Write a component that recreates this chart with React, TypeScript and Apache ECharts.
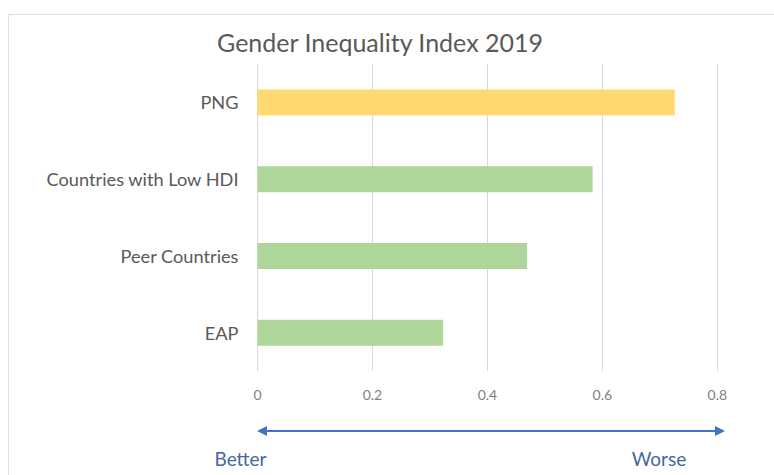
import React, { useEffect, useRef } from "react";
import * as echarts from "echarts";

const categories = ["EAP", "Peer Countries", "Countries with Low HDI", "PNG"];
const values = [0.323, 0.469, 0.583, 0.726];
const barColors = ["#AED59A", "#AED59A", "#AED59A", "#FFD970"];
const xTicks = { min: 0, max: 0.8, interval: 0.2 };
const titleText = "Gender Inequality Index 2019";
const arrowLabels = ["Better", "Worse"];

export default function App() {
  const ref = useRef<HTMLDivElement>(null);
  useEffect(() => {
    if (!ref.current) return;
    const chart = echarts.init(ref.current, undefined, { renderer: "svg" });
    const font = "Lato, 'Open Sans', sans-serif";
    chart.setOption({
      animation: false,
      backgroundColor: "#ffffff",
      title: {
        text: titleText,
        left: 375,
        textAlign: "center",
        top: 24,
        textStyle: { fontFamily: font, fontSize: 25, fontWeight: "normal", color: "#595959" },
      },
      grid: { left: 257.5, right: 56.7, top: 64, bottom: 104 },
      xAxis: {
        type: "value",
        min: xTicks.min,
        max: xTicks.max,
        interval: xTicks.interval,
        axisLine: { show: false },
        axisTick: { show: false },
        axisLabel: { color: "#7f7f7f", fontFamily: font, fontSize: 14, margin: 16 },
        splitLine: { lineStyle: { color: "#d9d9d9", width: 1 } },
      },
      yAxis: {
        type: "category",
        data: categories,
        axisLine: { show: false },
        axisTick: { show: false },
        axisLabel: { color: "#595959", fontFamily: font, fontSize: 18.2, margin: 19 },
      },
      series: [
        {
          type: "bar",
          barWidth: 26,
          data: values.map((v, i) => ({ value: v, itemStyle: { color: barColors[i] } })),
        },
      ],
      graphic: [
        {
          type: "rect",
          shape: { x: 8.5, y: 14.5, width: 800, height: 500 },
          style: { fill: "none", stroke: "#dedede", lineWidth: 1 },
          silent: true,
        },
        {
          type: "line",
          shape: { x1: 264, y1: 431, x2: 718, y2: 431 },
          style: { stroke: "#4472C4", lineWidth: 2 },
        },
        {
          type: "polygon",
          shape: { points: [[257, 431], [267, 426], [267, 436]] },
          style: { fill: "#4472C4" },
        },
        {
          type: "polygon",
          shape: { points: [[725, 431], [715, 426], [715, 436]] },
          style: { fill: "#4472C4" },
        },
        {
          type: "text",
          x: 240.5,
          y: 458,
          style: {
            text: arrowLabels[0],
            fill: "#44689E",
            font: "19px " + font,
            textAlign: "center",
            textVerticalAlign: "middle",
          },
        },
        {
          type: "text",
          x: 659,
          y: 458,
          style: {
            text: arrowLabels[1],
            fill: "#44689E",
            font: "19px " + font,
            textAlign: "center",
            textVerticalAlign: "middle",
          },
        },
      ],
    });
    return () => chart.dispose();
  }, []);
  return (
    <div
      ref={ref}
      style={{ position: "absolute", left: 0, top: 0, width: 774, height: 475 }}
    />
  );
}
